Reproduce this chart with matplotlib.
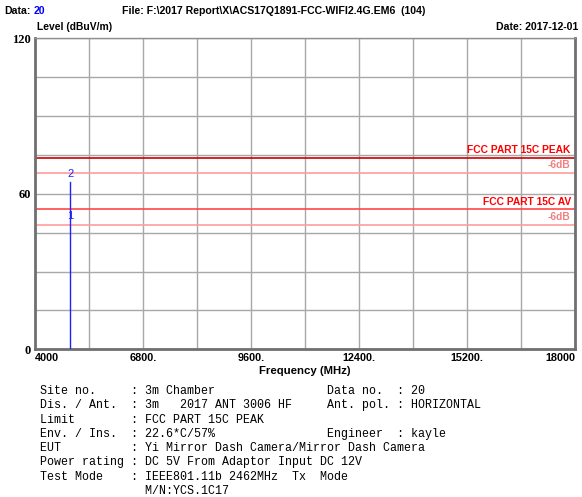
import matplotlib
matplotlib.use('Agg')
import matplotlib.pyplot as plt
from matplotlib import font_manager

# --- data ---
freq_ticks = [4000, 5400, 6800, 8200, 9600, 11000, 12400, 13800, 15200, 16600, 18000]
freq_tick_labels = ['4000', '', '6800.', '', '9600.', '', '12400.', '', '15200.', '', '18000']
level_ticks = [0, 15, 30, 45, 60, 75, 90, 105, 120]
level_tick_labels = ['0', '', '', '', '60', '', '', '', '120']

trace_freq = [4924, 4924]
trace_level = [0, 64.7]

marker_ids = ['1', '2']
marker_freq = [4924, 4924]
marker_level = [48.6, 64.7]

limit_names = ['FCC PART 15C PEAK', 'FCC PART 15C AV']
limit_levels = [74, 54]
limit_margin = 6

info_lines = [
    'Site no.     : 3m Chamber                Data no.  : 20',
    'Dis. / Ant.  : 3m   2017 ANT 3006 HF     Ant. pol. : HORIZONTAL',
    'Limit        : FCC PART 15C PEAK',
    'Env. / Ins.  : 22.6*C/57%                Engineer  : kayle',
    'EUT          : Yi Mirror Dash Camera/Mirror Dash Camera',
    'Power rating : DC 5V From Adaptor Input DC 12V',
    'Test Mode    : IEEE801.11b 2462MHz  Tx  Mode',
    '               M/N:YCS.1C17',
]

names = {f.name for f in font_manager.fontManager.ttflist}
head_font = 'Liberation Sans Narrow' if 'Liberation Sans Narrow' in names else 'Liberation Sans'

fig = plt.figure(figsize=(5.82, 4.97), dpi=100)
ax = fig.add_axes([34.7 / 582, 1 - 349.3 / 497, (575 - 34.7) / 582, (349.3 - 38.3) / 497])

ax.set_xlim(4000, 18000)
ax.set_ylim(0, 120)
ax.set_xticks(freq_ticks)
ax.set_xticklabels(freq_tick_labels, family=head_font, fontweight='bold', fontsize=7.8)
ax.set_yticks(level_ticks)
ax.set_yticklabels(level_tick_labels, family='Liberation Serif', fontweight='bold', fontsize=9)
ax.tick_params(length=0, pad=3)
xl = ax.get_xticklabels()
xl[0].set_ha('left')
xl[-1].set_ha('right')
ax.grid(True, color='#a8a8a8', linewidth=1)
ax.set_axisbelow(True)
for side in ['left', 'bottom', 'right']:
    ax.spines[side].set_color('#707070')
    ax.spines[side].set_linewidth(2)
ax.spines['top'].set_color('#909090')
ax.spines['top'].set_linewidth(1)

# limit lines and their -6dB margins
limit_colors = ['#cc0000', '#ff4848']
for name, lvl, col in zip(limit_names, limit_levels, limit_colors):
    ax.axhline(lvl, color=col, linewidth=1.2, zorder=2)
    ax.axhline(lvl - limit_margin, color='#ff9c9c', linewidth=1.2, zorder=2)
    ax.annotate(name, (1, lvl), xycoords=('axes fraction', 'data'), xytext=(-3, 2),
                textcoords='offset points', ha='right', va='bottom', color='#ff0000',
                family=head_font, fontweight='bold', fontsize=7.4)
    ax.annotate('-%ddB' % limit_margin, (1, lvl - limit_margin), xycoords=('axes fraction', 'data'),
                xytext=(-3, 2), textcoords='offset points', ha='right', va='bottom',
                color='#f08080', family=head_font, fontweight='bold', fontsize=7.4)

# trace and markers
ax.plot(trace_freq, trace_level, color='#2020ff', linewidth=1, zorder=3)
for mid, f, lvl in zip(marker_ids, marker_freq, marker_level):
    ax.annotate(mid, (f, lvl), xytext=(0, 2), textcoords='offset points', ha='center',
                va='bottom', color='#2020ff', family='Liberation Sans', fontsize=8, zorder=4)

ax.set_xlabel('Frequency (MHz)', family=head_font, fontweight='bold', fontsize=8.2, labelpad=2)

# header texts
fig.text(4 / 582, 1 - 11 / 497, 'Data:', family=head_font, fontweight='bold', fontsize=7.6, va='center')
fig.text(34 / 582, 1 - 11 / 497, '20', family=head_font, fontweight='bold', fontsize=7.6, va='center', color='#0000ff')
fig.text(122 / 582, 1 - 11 / 497, r'File: F:\2017 Report\X\ACS17Q1891-FCC-WIFI2.4G.EM6  (104)',
         family=head_font, fontweight='bold', fontsize=7.6, va='center')
fig.text(37 / 582, 1 - 27 / 497, 'Level (dBuV/m)', family=head_font, fontweight='bold', fontsize=7.4, va='center')
fig.text(578 / 582, 1 - 27 / 497, 'Date: 2017-12-01', family=head_font, fontweight='bold', fontsize=7.6,
         va='center', ha='right')

# info block
for i, line in enumerate(info_lines):
    fig.text(40 / 582, 1 - (391 + i * 14.3) / 497, line, family='Liberation Mono', fontsize=8.4, va='center')

fig.savefig('out.png', dpi=100)
